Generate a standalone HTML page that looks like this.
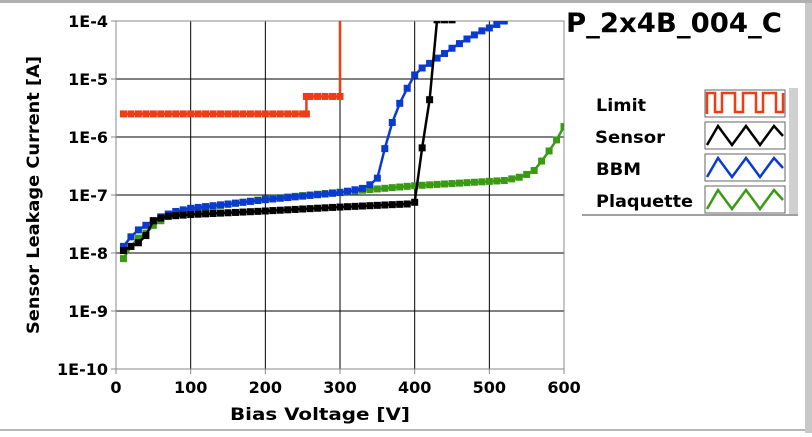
<!DOCTYPE html><html><head><meta charset="utf-8"><style>
body{margin:0;width:812px;height:433px;background:#fff;overflow:hidden;font-family:"DejaVu Sans",sans-serif}
</style></head><body>
<svg id="s" width="812" height="433" xmlns="http://www.w3.org/2000/svg" font-family="DejaVu Sans, Liberation Sans, sans-serif" font-weight="bold">
<rect x="0" y="0" width="812" height="3" fill="#b0b0b0"/>
<rect x="805" y="3" width="7" height="430" fill="#c8c8c8"/>
<rect x="0" y="429" width="805" height="2" fill="#b8b8b8"/>
<g id="grid" stroke="#000" stroke-width="1"></g>
<rect x="116" y="21" width="448" height="348" fill="none" stroke="#888" stroke-width="1"/>
<g id="lbl" font-size="16" fill="#000"></g>
<text x="230" y="420" font-size="17" textLength="180" lengthAdjust="spacingAndGlyphs">Bias Voltage [V]</text>
<text transform="translate(39,334) rotate(-90)" font-size="17" textLength="278" lengthAdjust="spacingAndGlyphs">Sensor Leakage Current [A]</text>
<text x="566" y="32" font-size="27" textLength="216" lengthAdjust="spacingAndGlyphs">P_2x4B_004_C</text>
<svg x="116" y="21" width="448" height="349" overflow="hidden"><g id="data" transform="translate(-116,-21)"></g></svg>
<rect x="582" y="88" width="218" height="128" fill="#fff"/>
<rect x="789" y="88" width="9" height="128" fill="#d0d0d0"/>
<rect x="582" y="214" width="216" height="2" fill="#a0a0a0"/>
<g font-size="17"><text x="596" y="111" textLength="50" lengthAdjust="spacingAndGlyphs">Limit</text><text x="595" y="143" textLength="70" lengthAdjust="spacingAndGlyphs">Sensor</text><text x="596" y="175" textLength="45" lengthAdjust="spacingAndGlyphs">BBM</text><text x="596" y="207" textLength="97" lengthAdjust="spacingAndGlyphs">Plaquette</text></g>
<g id="leg"></g>
</svg>
<script>
const X=v=>116+v*0.7467, Y=l=>21+(-4-l)*58;
const g=document.getElementById('grid'),lb=document.getElementById('lbl'),d=document.getElementById('data'),lg=document.getElementById('leg');
const ns='http://www.w3.org/2000/svg';
function el(p,t,a,txt){const e=document.createElementNS(ns,t);for(const k in a)e.setAttribute(k,a[k]);if(txt)e.textContent=txt;p.appendChild(e);return e;}
for(let i=0;i<=6;i++){const y=Y(-4-i);if(i>0&&i<6)el(g,'line',{x1:116,x2:564,y1:y,y2:y});el(g,'line',{x1:111,x2:116,y1:y,y2:y,stroke:'#888'});el(lb,'text',{x:108,y:y+6,'text-anchor':'end'},'1E-'+(4+i));}
for(let v=0;v<=600;v+=100){const x=X(v);if(v>0&&v<600)el(g,'line',{x1:x,x2:x,y1:21,y2:369});el(g,'line',{x1:x,x2:x,y1:369,y2:374,stroke:'#888'});el(lb,'text',{x:x,y:393,'text-anchor':'middle'},''+v);}
function interp(pts,v){for(let i=0;i<pts.length-1;i++){if(v>=pts[i][0]&&v<=pts[i+1][0]){const t=(v-pts[i][0])/(pts[i+1][0]-pts[i][0]);return pts[i][1]+t*(pts[i+1][1]-pts[i][1]);}}return pts[pts.length-1][1];}
function series(col,pts,v0,v1,step){const P=[];for(let v=v0;v<=v1;v+=step)P.push([X(v),Y(interp(pts,v))]);return P;}
function draw(col,P,step){el(d,'polyline',{points:P.map(p=>p.join(',')).join(' '),fill:'none',stroke:col,'stroke-width':2.5});P.forEach(p=>el(d,'rect',{x:p[0]-3.5,y:p[1]-3.5,width:7,height:7,fill:col}));}
const L=Math.log10;
draw('#3a9a14',series('',[[10,L(8e-9)],[20,L(1.3e-8)],[30,L(1.8e-8)],[40,L(2.2e-8)],[50,L(3e-8)],[60,L(3.6e-8)],[70,L(4.3e-8)],[100,L(5.6e-8)],[200,L(8.5e-8)],[300,L(1.12e-7)],[400,-6.84],[520,-6.75],[545,-6.68],[561,-6.57],[579,-6.26],[590,-6.05],[600,-5.82]],10,600,10));
draw('#0a3ad0',series('',[[10,L(1.3e-8)],[20,L(1.9e-8)],[30,L(2.5e-8)],[40,L(3e-8)],[50,L(3.6e-8)],[60,L(4.2e-8)],[70,L(4.7e-8)],[80,L(5.2e-8)],[100,L(5.9e-8)],[200,L(8.3e-8)],[300,L(1.1e-7)],[330,L(1.3e-7)],[340,L(1.5e-7)],[350,-6.71],[360,-6.2],[370,-5.75],[380,-5.42],[390,-5.16],[400,-4.93],[410,-4.81],[420,-4.73],[430,-4.64],[440,-4.56],[450,-4.47],[460,-4.39],[470,-4.31],[480,-4.24],[490,-4.17],[500,-4.12],[510,-4.06],[520,-4.0]],10,520,10));
draw('#000',series('',[[10,L(1.1e-8)],[20,L(1.3e-8)],[30,L(1.5e-8)],[40,L(2e-8)],[50,L(3.6e-8)],[60,L(4e-8)],[70,L(4.3e-8)],[100,L(4.6e-8)],[200,L(5.3e-8)],[300,L(6.2e-8)],[390,L(7e-8)],[400,L(7.5e-8)],[410,L(6.5e-7)],[420,L(4.4e-6)],[430,-3.98],[450,-3.98]],10,450,10));
(function(){const col='#f03c14';const P=[];for(let v=10;v<=250;v+=10)P.push([X(v),Y(L(2.5e-6))]);P.push([X(255),Y(L(2.5e-6))]);P.push([X(255),Y(L(5e-6))]);for(let v=260;v<=300;v+=10)P.push([X(v),Y(L(5e-6))]);P.push([X(300),0]);
el(d,'polyline',{points:P.map(p=>p.join(',')).join(' '),fill:'none',stroke:col,'stroke-width':2.5});P.slice(0,-1).forEach(p=>el(d,'rect',{x:p[0]-3.5,y:p[1]-3.5,width:7,height:7,fill:col}));})();
const sw=[['#f03c14',90],['#000',122],['#0a3ad0',154],['#3a9a14',186]];
sw.forEach(([c,y],i)=>{el(lg,'rect',{x:705,y:y,width:80,height:27,fill:'#fff',stroke:'#666','stroke-width':1});
let pts;if(i==0){pts='707,114 707,93 715,93 715,112 722,112 722,93 735,93 735,112 743,112 743,93 756,93 756,112 763,112 763,93 776,93 776,112 783,112 783,93';}
else{pts=[[707,y+23],[718,y+4],[732,y+23],[746,y+4],[760,y+23],[774,y+4],[783,y+14]].map(p=>p.join(',')).join(' ');}
el(lg,'polyline',{points:pts,fill:'none',stroke:c,'stroke-width':2.5});});
</script>
</body></html>
